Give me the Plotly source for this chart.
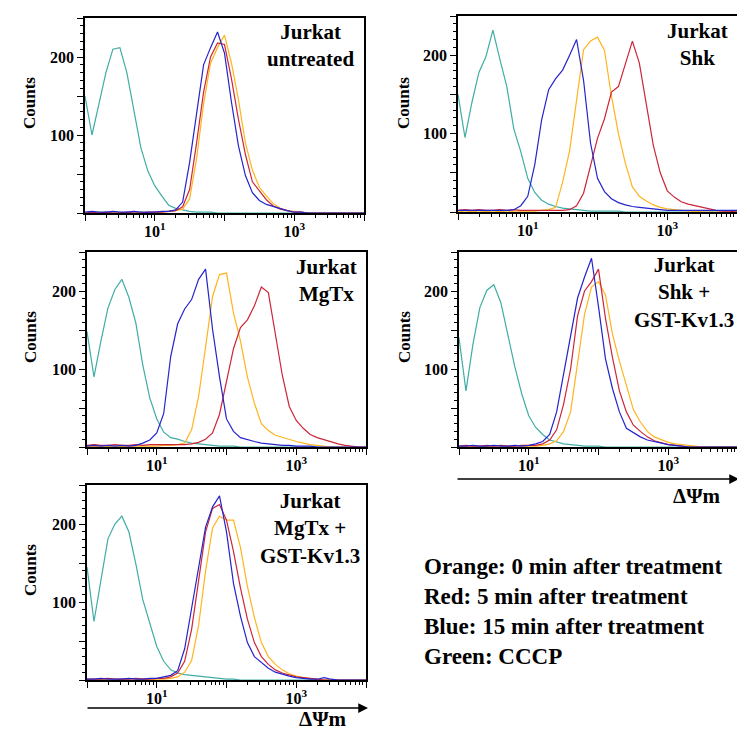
import plotly.graph_objects as go

W, H = 745, 732
SERIF = "Liberation Serif"

# channel positions, in decades of the log fluorescence axis (0.1 steps, 10^0 .. 10^4)
decades = [i / 10 for i in range(41)]

colors = {
    "green": "#3fada5",
    "orange": "#ffb41e",
    "red": "#cc2638",
    "blue": "#2424cc",
}

# counts per channel
untreated_green = [150, 100, 140, 180, 210, 212, 180, 133, 84, 54,
                   35, 22, 10, 6, 4, 2, 1, 1, 1, 0,
                   0, 0, 0, 0, 0, 0, 0, 0, 0, 0,
                   0, 0, 0, 0, 0, 0, 0, 0, 0, 0,
                   0]
untreated_orange = [0, 0, 1, 0, 0, 1, 0, 0, 1, 0,
                    1, 1, 2, 3, 5, 18, 70, 140, 192, 212,
                    228, 192, 145, 90, 55, 33, 22, 12, 6, 3,
                    2, 1, 0, 0, 0, 0, 0, 0, 0, 0,
                    0]
untreated_red = [0, 1, 0, 1, 0, 0, 1, 0, 0, 1,
                 1, 1, 2, 3, 8, 30, 90, 155, 200, 218,
                 216, 172, 120, 75, 40, 29, 17, 9, 5, 3,
                 1, 1, 0, 0, 0, 0, 0, 0, 0, 0,
                 0]
untreated_blue = [1, 2, 1, 1, 2, 1, 1, 2, 1, 1,
                  1, 2, 2, 4, 14, 65, 130, 190, 212, 232,
                  205, 142, 86, 48, 26, 16, 11, 8, 5, 3,
                  1, 1, 0, 0, 0, 0, 0, 0, 0, 0,
                  0]

shk_green = [150, 95, 140, 178, 198, 232, 195, 160, 106, 77,
             43, 25, 15, 10, 7, 5, 4, 3, 2, 1,
             1, 1, 1, 1, 0, 0, 0, 0, 0, 0,
             0, 0, 0, 0, 0, 0, 0, 0, 0, 0,
             0]
shk_orange = [1, 0, 1, 0, 1, 0, 1, 0, 1, 1,
              1, 1, 2, 3, 6, 38, 78, 140, 207, 218,
              223, 206, 148, 100, 62, 32, 20, 14, 9, 6,
              4, 3, 2, 1, 1, 0, 0, 0, 0, 0,
              0]
shk_red = [2, 3, 2, 3, 2, 2, 3, 2, 3, 2,
           2, 2, 2, 2, 2, 2, 3, 8, 24, 60,
           94, 119, 153, 160, 188, 218, 190, 138, 85, 50,
           27, 19, 13, 10, 8, 6, 4, 2, 1, 1,
           0]
shk_blue = [2, 2, 2, 2, 2, 2, 2, 2, 3, 8,
            20, 60, 118, 156, 170, 181, 200, 220, 168, 88,
            43, 26, 17, 12, 9, 7, 6, 5, 4, 3,
            2, 2, 2, 2, 2, 2, 2, 2, 2, 2,
            2]

mgtx_green = [148, 90, 136, 178, 202, 215, 192, 159, 105, 63,
              36, 19, 12, 10, 7, 5, 4, 3, 2, 1,
              1, 1, 0, 0, 0, 0, 0, 0, 0, 0,
              0, 0, 0, 0, 0, 0, 0, 0, 0, 0,
              0]
mgtx_orange = [0, 1, 0, 1, 0, 1, 0, 1, 1, 1,
               1, 2, 2, 3, 5, 22, 65, 128, 193, 221,
               223, 172, 136, 90, 56, 30, 21, 15, 12, 9,
               7, 5, 3, 2, 1, 0, 0, 0, 0, 0,
               0]
mgtx_red = [2, 3, 2, 2, 3, 2, 2, 3, 2, 3,
            3, 3, 3, 3, 3, 4, 6, 10, 18, 42,
            82, 126, 153, 163, 181, 205, 198, 146, 92, 52,
            34, 24, 16, 12, 9, 6, 4, 2, 1, 0,
            0]
mgtx_blue = [1, 2, 1, 2, 1, 2, 1, 2, 5, 9,
             18, 43, 116, 158, 177, 189, 215, 228, 151, 90,
             36, 20, 12, 9, 7, 5, 4, 3, 2, 2,
             1, 1, 1, 0, 0, 0, 0, 0, 0, 0,
             0]

shk_gst_green = [140, 72, 132, 179, 201, 208, 185, 143, 103, 68,
                 40, 25, 16, 9, 6, 4, 3, 2, 1, 1,
                 1, 0, 0, 0, 0, 0, 0, 0, 0, 0,
                 0, 0, 0, 0, 0, 0, 0, 0, 0, 0,
                 0]
shk_gst_orange = [0, 1, 0, 0, 1, 0, 0, 1, 0, 0,
                  1, 1, 2, 4, 8, 20, 45, 108, 170, 205,
                  212, 195, 145, 110, 78, 48, 32, 20, 13, 9,
                  6, 4, 3, 2, 1, 0, 0, 0, 0, 0,
                  0]
shk_gst_red = [1, 2, 1, 1, 2, 1, 2, 1, 1, 2,
               2, 2, 4, 9, 22, 55, 100, 168, 200, 212,
               228, 165, 115, 72, 45, 28, 20, 13, 8, 5,
               3, 2, 1, 0, 0, 0, 0, 0, 0, 0,
               0]
shk_gst_blue = [1, 1, 2, 1, 1, 2, 1, 1, 2, 1,
                2, 4, 7, 16, 45, 95, 145, 191, 218, 242,
                180, 113, 75, 45, 24, 18, 13, 9, 7, 5,
                3, 2, 1, 0, 0, 0, 0, 0, 0, 0,
                0]

mgtx_gst_green = [145, 75, 128, 181, 200, 210, 190, 149, 103, 72,
                  43, 24, 13, 9, 7, 6, 5, 4, 3, 2,
                  1, 1, 0, 0, 0, 0, 0, 0, 0, 0,
                  0, 0, 0, 0, 0, 0, 0, 0, 0, 0,
                  0]
mgtx_gst_orange = [0, 0, 1, 0, 0, 1, 0, 0, 1, 0,
                   1, 1, 2, 4, 10, 25, 70, 140, 195, 210,
                   205, 205, 170, 120, 80, 48, 30, 20, 13, 8,
                   5, 3, 2, 1, 0, 0, 0, 0, 0, 0,
                   0]
mgtx_gst_red = [1, 1, 1, 2, 1, 1, 1, 2, 1, 1,
                2, 2, 4, 9, 24, 65, 125, 190, 220, 225,
                205, 165, 118, 78, 48, 30, 20, 13, 9, 6,
                4, 3, 2, 1, 0, 0, 0, 0, 0, 0,
                0]
mgtx_gst_blue = [1, 1, 2, 1, 1, 1, 2, 1, 1, 2,
                 2, 4, 6, 12, 40, 92, 147, 196, 222, 236,
                 190, 124, 82, 48, 30, 22, 15, 10, 7, 5,
                 3, 2, 1, 1, 3, 1, 0, 0, 0, 0,
                 0]

# panel name, box in pixels (left, right, top, bottom), histograms
panels = [
    ("Jurkat<br>untreated", (77, 356, 10, 205),
     [untreated_green, untreated_orange, untreated_red, untreated_blue]),
    ("Jurkat<br>Shk", (450, 729, 8, 204),
     [shk_green, shk_orange, shk_red, shk_blue]),
    ("Jurkat<br>MgTx", (79, 358, 244, 439),
     [mgtx_green, mgtx_orange, mgtx_red, mgtx_blue]),
    ("Jurkat<br>Shk +<br>GST-Kv1.3", (451, 730, 244, 439),
     [shk_gst_green, shk_gst_orange, shk_gst_red, shk_gst_blue]),
    ("Jurkat<br>MgTx +<br>GST-Kv1.3", (79, 358, 477, 672),
     [mgtx_gst_green, mgtx_gst_orange, mgtx_gst_red, mgtx_gst_blue]),
]
title_pos = [(302, 37), (689, 36), (318, 272), (676, 284), (302, 520)]
counts_pos = [(22, 95), (396, 95), (22, 329), (396, 329), (22, 562)]
legend_lines = [
    "Orange: 0 min after treatment",
    "Red: 5 min after treatment",
    "Blue: 15 min after treatment",
    "Green: CCCP",
]


def px(x):
    return x / W


def py(y):
    return 1 - y / H


x = [10 ** d for d in decades]
minor_x = [k * 10 ** e for e in range(4) for k in range(2, 10)]
tick_font = dict(family=SERIF, size=16, color="black", weight="bold")

fig = go.Figure()
layout = {}
annotations = []

for n, (title, (x0, x1, y0, y1), hists) in enumerate(panels, start=1):
    suffix = "" if n == 1 else str(n)
    for name, counts in zip(["green", "orange", "red", "blue"], hists):
        fig.add_trace(go.Scatter(
            x=x, y=counts, mode="lines", name=name,
            line=dict(color=colors[name], width=1.2),
            xaxis="x" + suffix, yaxis="y" + suffix,
            showlegend=False, hoverinfo="skip",
        ))

    layout["xaxis" + suffix] = dict(
        type="log", range=[0, 4], domain=[px(x0), px(x1)],
        anchor="y" + suffix, showgrid=False, zeroline=False,
        showline=True, linecolor="black", linewidth=1.5, mirror=True,
        ticks="outside", ticklen=6, tickwidth=1.2, tickcolor="black",
        tickvals=[1, 10, 100, 1000, 10000],
        ticktext=["", "10<sup>1</sup>", "", "10<sup>3</sup>", ""],
        tickfont=tick_font, ticklabelstandoff=-3,
        minor=dict(ticks="outside", ticklen=3, tickwidth=1, tickcolor="black",
                   tickvals=minor_x, showgrid=False),
    )
    layout["yaxis" + suffix] = dict(
        range=[0, 250], domain=[py(y1), py(y0)],
        anchor="x" + suffix, showgrid=False, zeroline=False,
        showline=True, linecolor="black", linewidth=1.5, mirror=True,
        ticks="outside", ticklen=6, tickwidth=1.2, tickcolor="black",
        tickvals=[0, 50, 100, 150, 200, 250],
        ticktext=["", "", "100", "", "200", ""],
        tickfont=tick_font,
        minor=dict(ticks="outside", ticklen=3, tickwidth=1, tickcolor="black",
                   dtick=10, tick0=0, showgrid=False),
    )

    tx, ty = title_pos[n - 1]
    annotations.append(dict(
        x=px(tx), y=py(ty), xref="paper", yref="paper", text=title,
        showarrow=False, align="center", xanchor="center", yanchor="middle",
        font=dict(family=SERIF, size=21, color="black", weight="bold"),
    ))
    cx, cy = counts_pos[n - 1]
    annotations.append(dict(
        x=px(cx), y=py(cy), xref="paper", yref="paper", text="Counts",
        showarrow=False, textangle=-90, xanchor="center", yanchor="middle",
        font=dict(family=SERIF, size=17, color="black", weight="bold"),
    ))

# the ΔΨm arrows under the bottom panel of each column
for (xa, xb, ya), (lx, ly) in [((448, 731, 471), (689, 488)),
                               ((78, 360, 700), (315, 711))]:
    annotations.append(dict(
        x=px(xb), y=py(ya), xref="paper", yref="paper", text="",
        showarrow=True, ax=xa - xb, ay=0, arrowhead=2, arrowsize=1.3,
        arrowwidth=1.5, arrowcolor="black",
    ))
    annotations.append(dict(
        x=px(lx), y=py(ly), xref="paper", yref="paper", text="ΔΨm",
        showarrow=False, xanchor="center", yanchor="middle",
        font=dict(family=SERIF, size=21, color="black", weight="bold"),
    ))

for i, line in enumerate(legend_lines):
    annotations.append(dict(
        x=px(414), y=py(558 + 30 * i), xref="paper", yref="paper", text=line,
        showarrow=False, xanchor="left", yanchor="middle",
        font=dict(family=SERIF, size=23, color="black", weight="bold"),
    ))

fig.update_layout(
    **layout,
    annotations=annotations,
    width=W, height=H,
    margin=dict(l=0, r=0, t=0, b=0),
    paper_bgcolor="white", plot_bgcolor="white",
    showlegend=False,
)

fig.write_html("out.html")
